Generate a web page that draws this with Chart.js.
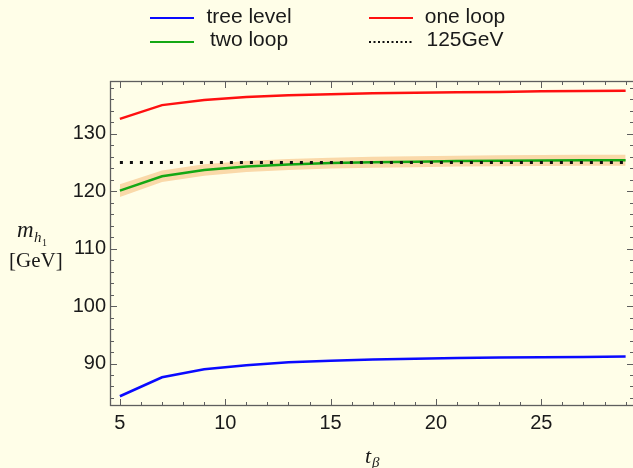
<!DOCTYPE html>
<html>
<head>
<meta charset="utf-8">
<script src="https://cdn.jsdelivr.net/npm/chart.js@4.4.1/dist/chart.umd.min.js"></script>
<style>
  html, body { margin: 0; padding: 0; background: #fffee8; }
  #wrap { position: relative; width: 633px; height: 468px; overflow: hidden; }
</style>
</head>
<body>
<div id="wrap"><canvas id="massChart" width="633" height="468"></canvas></div>
<script>
/* m_h1 vs t_beta – tree / one loop / two loop */

const T_BETA = [5, 7, 9, 11, 13, 15, 17, 19, 21, 23, 25, 27, 29];
const TREE_LEVEL = [84.3, 87.6, 89.0, 89.7, 90.2, 90.5, 90.7, 90.85, 90.95, 91.05, 91.1, 91.15, 91.2];
const ONE_LOOP = [132.6, 135.0, 135.9, 136.4, 136.7, 136.9, 137.05, 137.15, 137.25, 137.3, 137.4, 137.45, 137.5];
const TWO_LOOP = [120.1, 122.6, 123.7, 124.3, 124.65, 124.9, 125.05, 125.15, 125.25, 125.3, 125.35, 125.4, 125.4];
const TWO_LOOP_LOW = [119.0, 121.6, 122.7, 123.35, 123.7, 123.95, 124.1, 124.2, 124.3, 124.35, 124.4, 124.45, 124.45];
const TWO_LOOP_HIGH = [121.2, 123.6, 124.7, 125.25, 125.6, 125.85, 126.0, 126.1, 126.2, 126.25, 126.3, 126.35, 126.35];
const REF_X = [5, 29];
const REF_MASS = [125, 125];

const X_TICKS = [5, 10, 15, 20, 25];
const Y_TICKS = [90, 100, 110, 120, 130];

const FRAME_COLOR = "#5e5e5e";
const TEXT_COLOR = "#1a1a1a";
const SANS = "'Liberation Sans', Arial, sans-serif";
const SERIF = "'Liberation Serif', 'Times New Roman', serif";

function points(xs, ys) {
  return xs.map((x, i) => ({ x: x, y: ys[i] }));
}

/* legend slots: [line x0, line x1, text centre x, line y, text baseline] */
const LEGEND_SLOTS = [
  [150, 194, 249, 18, 23],
  [369, 413, 465, 18, 23],
  [150, 194, 249, 42, 46],
  [369, 413, 465, 42, 46]
];

const legendPlugin = {
  id: "gridLegend",
  afterDraw(chart) {
    const ctx = chart.ctx;
    const items = chart.data.datasets.filter((d) => d.legendSlot !== undefined);
    ctx.save();
    items.forEach((d) => {
      const s = LEGEND_SLOTS[d.legendSlot];
      ctx.beginPath();
      ctx.strokeStyle = d.borderColor;
      ctx.lineWidth = 2;
      ctx.setLineDash(d.borderDash ? [2, 2.5] : []);
      ctx.moveTo(s[0], s[3]);
      ctx.lineTo(s[1], s[3]);
      ctx.stroke();
      ctx.setLineDash([]);
      ctx.fillStyle = TEXT_COLOR;
      ctx.font = "21px " + SANS;
      ctx.textAlign = "center";
      ctx.textBaseline = "alphabetic";
      ctx.fillText(d.label, s[2], s[4]);
    });
    ctx.restore();
  }
};

const framePlugin = {
  id: "frameTicks",
  afterDraw(chart) {
    const { ctx, chartArea: a, scales } = chart;
    const x = scales.x;
    const y = scales.y;
    const right = a.right + 1; // right spine sits just past the canvas edge
    ctx.save();
    ctx.strokeStyle = FRAME_COLOR;
    ctx.lineWidth = 1;
    ctx.beginPath();
    x.ticks.forEach((t) => {
      const px = Math.round(x.getPixelForValue(t.value)) + 0.5;
      const len = X_TICKS.includes(t.value) ? 7 : 4;
      ctx.moveTo(px, a.bottom);
      ctx.lineTo(px, a.bottom - len);
      ctx.moveTo(px, a.top);
      ctx.lineTo(px, a.top + len);
    });
    y.ticks.forEach((t) => {
      const py = Math.round(y.getPixelForValue(t.value)) + 0.5;
      const len = Y_TICKS.includes(t.value) ? 7 : 4;
      ctx.moveTo(a.left, py);
      ctx.lineTo(a.left + len, py);
      ctx.moveTo(right, py);
      ctx.lineTo(right - len, py);
    });
    ctx.stroke();
    ctx.lineWidth = 1.3;
    ctx.strokeRect(a.left + 0.5, a.top + 0.5, right - a.left, a.height - 1);

    /* axis titles */
    ctx.fillStyle = TEXT_COLOR;
    ctx.textAlign = "left";
    ctx.textBaseline = "alphabetic";
    ctx.font = "italic 23px " + SERIF;
    ctx.fillText("m", 17, 237);
    ctx.font = "italic 15px " + SERIF;
    ctx.fillText("h", 34, 242);
    ctx.font = "10px " + SERIF;
    ctx.fillText("1", 42, 246);
    ctx.font = "21px " + SERIF;
    ctx.fillText("[GeV]", 9, 267);
    ctx.font = "italic 22px " + SERIF;
    ctx.fillText("t", 365, 463);
    ctx.font = "italic 15px " + SERIF;
    ctx.fillText("β", 372, 467);
    ctx.restore();
  }
};

function lineSet(label, xs, ys, color, extra) {
  return Object.assign({
    label: label,
    data: points(xs, ys),
    borderColor: color,
    backgroundColor: color,
    borderWidth: 2.5,
    pointRadius: 0,
    tension: 0,
    fill: false
  }, extra || {});
}

new Chart(document.getElementById("massChart"), {
  type: "line",
  data: {
    datasets: [
      lineSet("band high", T_BETA, TWO_LOOP_HIGH, "rgba(0,0,0,0)", { borderWidth: 0, order: 5 }),
      lineSet("band low", T_BETA, TWO_LOOP_LOW, "rgba(0,0,0,0)", {
        borderWidth: 0, order: 5, fill: "-1", backgroundColor: "rgba(245,180,105,0.5)"
      }),
      lineSet("tree level", T_BETA, TREE_LEVEL, "#0a0aff", { legendSlot: 0, order: 2 }),
      lineSet("one loop", T_BETA, ONE_LOOP, "#ff1010", { legendSlot: 1, order: 2 }),
      lineSet("two loop", T_BETA, TWO_LOOP, "#14a814", { legendSlot: 2, order: 1 }),
      lineSet("125GeV", REF_X, REF_MASS, "#111111", {
        legendSlot: 3, order: 0, borderWidth: 3, borderDash: [3, 7], borderCapStyle: "butt"
      })
    ]
  },
  options: {
    responsive: false,
    animation: false,
    events: [],
    layout: { padding: { left: 0, right: 0, top: 81, bottom: 0 } },
    plugins: { legend: { display: false }, tooltip: { enabled: false } },
    scales: {
      x: {
        type: "linear",
        min: 4.53,
        max: 29.35,
        afterBuildTicks: (s) => {
          const t = [];
          for (let v = 5; v <= 29; v++) t.push({ value: v });
          s.ticks = t;
        },
        afterFit: (s) => { s.height = 62; },
        grid: { display: false, drawTicks: false },
        border: { display: false },
        ticks: {
          autoSkip: false,
          maxRotation: 0,
          padding: 5,
          color: TEXT_COLOR,
          font: { family: SANS, size: 20 },
          callback: (v) => (X_TICKS.includes(v) ? String(v) : "")
        }
      },
      y: {
        type: "linear",
        min: 82.6,
        max: 139.2,
        afterBuildTicks: (s) => {
          const t = [];
          for (let v = 84; v <= 138; v += 2) t.push({ value: v });
          s.ticks = t;
        },
        afterFit: (s) => { s.width = 110; },
        grid: { display: false, drawTicks: false },
        border: { display: false },
        ticks: {
          autoSkip: false,
          padding: 4,
          color: TEXT_COLOR,
          font: { family: SANS, size: 20 },
          callback: (v) => (Y_TICKS.includes(v) ? String(v) : "")
        }
      }
    }
  },
  plugins: [framePlugin, legendPlugin]
});
</script>
</body>
</html>
